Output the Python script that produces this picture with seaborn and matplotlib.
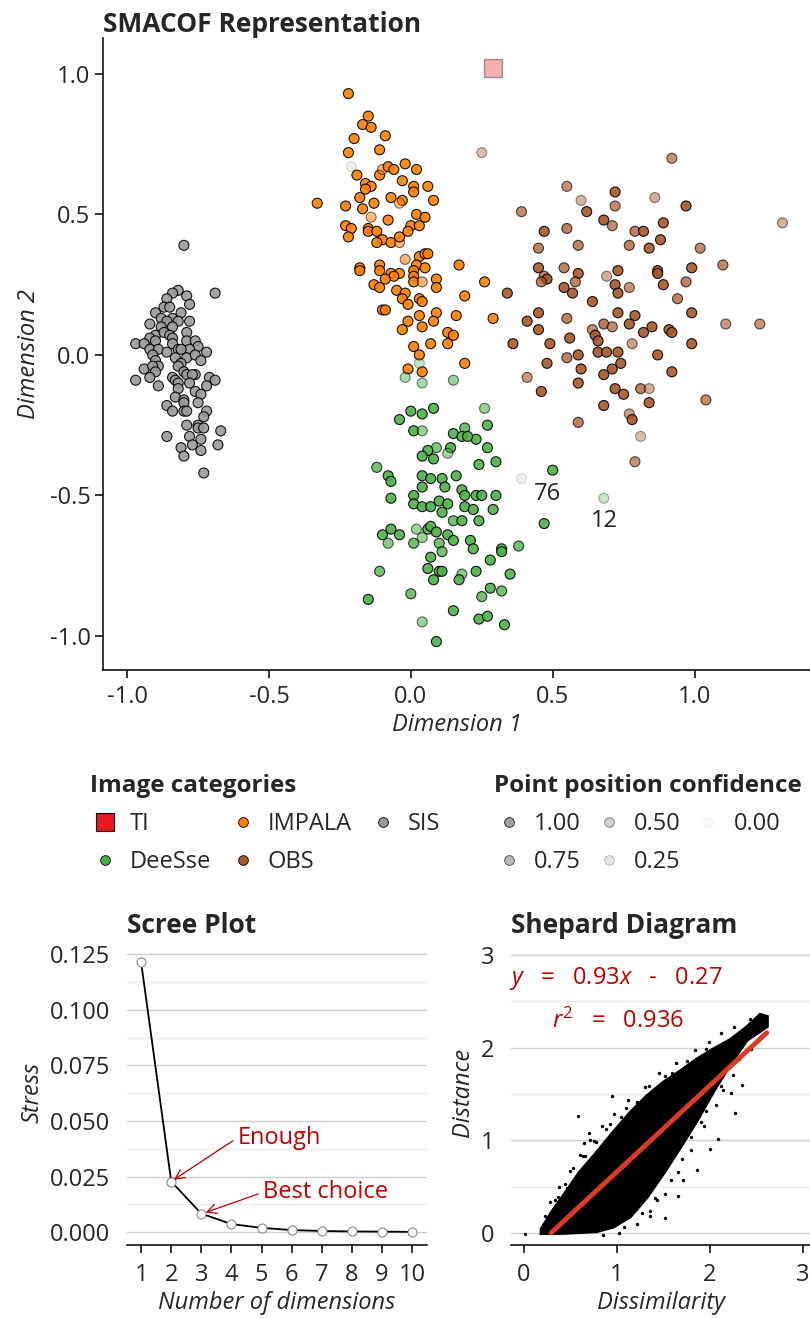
import numpy as np
import pandas as pd
import matplotlib
matplotlib.use("Agg")
import matplotlib.pyplot as plt
import matplotlib.colors as mcolors
from matplotlib.lines import Line2D
from matplotlib.ticker import MultipleLocator, FormatStrFormatter
import seaborn as sns

# ---- data ----
# configuration points (x, y, confidence)
ti_pts = [(0.29, 1.02, 0.35)]

sis_pts = [
    (-0.80, 0.39, 1), (-0.69, 0.22, 1), (-0.82, 0.23, 1), (-0.84, 0.22, 1), (-0.79, 0.21, 1),
    (-0.78, 0.18, 1), (-0.86, 0.20, 1), (-0.87, 0.17, 1), (-0.85, 0.17, 1), (-0.90, 0.15, 1),
    (-0.81, 0.15, 1), (-0.88, 0.13, 1), (-0.84, 0.13, 1), (-0.82, 0.12, 1), (-0.78, 0.12, 1),
    (-0.92, 0.11, 1), (-0.86, 0.12, 1), (-0.88, 0.10, 1), (-0.84, 0.10, 1), (-0.79, 0.08, 1),
    (-0.90, 0.07, 1), (-0.87, 0.08, 1), (-0.92, 0.06, 1), (-0.85, 0.07, 1), (-0.84, 0.06, 1),
    (-0.79, 0.05, 1), (-0.97, 0.04, 1), (-0.94, 0.04, 1), (-0.90, 0.05, 1), (-0.76, 0.05, 1),
    (-0.75, 0.03, 1), (-0.84, 0.04, 1), (-0.78, 0.02, 1), (-0.92, 0.02, 1), (-0.89, 0.02, 1),
    (-0.82, 0.02, 1), (-0.81, 0.02, 1), (-0.72, 0.01, 1), (-0.86, 0.01, 1), (-0.91, 0.00, 1),
    (-0.83, -0.01, 1), (-0.79, -0.01, 1), (-0.76, 0.00, 1), (-0.74, -0.02, 1), (-0.90, -0.02, 1),
    (-0.81, -0.03, 1), (-0.89, -0.04, 1), (-0.94, -0.05, 1), (-0.91, -0.04, 1), (-0.82, -0.04, 1),
    (-0.90, -0.06, 1), (-0.92, -0.08, 1), (-0.80, -0.06, 1), (-0.79, -0.07, 1), (-0.76, -0.07, 1),
    (-0.77, -0.07, 1), (-0.84, -0.08, 1), (-0.83, -0.09, 1), (-0.71, -0.08, 1), (-0.69, -0.09, 1),
    (-0.97, -0.09, 1), (-0.82, -0.10, 1), (-0.78, -0.10, 1), (-0.72, -0.11, 1), (-0.89, -0.11, 1),
    (-0.82, -0.12, 1), (-0.76, -0.13, 1), (-0.74, -0.14, 1), (-0.83, -0.15, 1), (-0.80, -0.16, 1),
    (-0.80, -0.17, 1), (-0.86, -0.18, 1), (-0.75, -0.17, 1), (-0.84, -0.20, 1), (-0.80, -0.20, 1),
    (-0.79, -0.20, 1), (-0.72, -0.20, 1), (-0.73, -0.22, 1), (-0.79, -0.25, 1), (-0.75, -0.25, 1),
    (-0.75, -0.26, 1), (-0.73, -0.26, 1), (-0.67, -0.27, 1), (-0.86, -0.29, 1), (-0.78, -0.29, 1),
    (-0.74, -0.30, 1), (-0.77, -0.32, 1), (-0.68, -0.32, 1), (-0.81, -0.33, 1), (-0.74, -0.34, 1),
    (-0.80, -0.36, 1), (-0.73, -0.42, 1),
]

impala_pts = [
    (-0.22, 0.93, 1), (-0.15, 0.85, 1), (-0.17, 0.82, 1), (-0.14, 0.81, 1), (-0.20, 0.77, 1),
    (-0.09, 0.78, 1), (-0.22, 0.72, 1), (-0.11, 0.73, 1), (-0.19, 0.64, 1), (-0.11, 0.64, 1),
    (-0.10, 0.66, 0.6), (-0.08, 0.67, 1), (-0.06, 0.66, 1), (-0.02, 0.68, 1), (0.02, 0.66, 1),
    (-0.16, 0.61, 1), (-0.14, 0.60, 1), (-0.16, 0.59, 1), (-0.03, 0.62, 1), (0.01, 0.60, 1),
    (0.01, 0.58, 1), (0.06, 0.60, 1), (-0.18, 0.56, 1), (-0.07, 0.56, 1), (-0.03, 0.55, 1),
    (-0.04, 0.54, 0.5), (0.08, 0.55, 1), (-0.33, 0.54, 1), (-0.23, 0.53, 1), (-0.13, 0.54, 1),
    (-0.17, 0.52, 1), (-0.14, 0.49, 0.55), (0.02, 0.50, 1), (0.05, 0.49, 1), (-0.08, 0.48, 1),
    (-0.23, 0.46, 1), (-0.21, 0.45, 1), (-0.15, 0.45, 1), (-0.15, 0.44, 1), (-0.12, 0.44, 1),
    (0.00, 0.46, 1), (-0.01, 0.44, 1), (0.03, 0.46, 1), (-0.22, 0.42, 1), (-0.10, 0.41, 1),
    (-0.12, 0.40, 1), (-0.07, 0.40, 1), (-0.04, 0.40, 0.6), (-0.04, 0.42, 1),
    (-0.02, 0.34, 0.6), (0.03, 0.35, 1), (0.05, 0.36, 1), (0.06, 0.36, 1), (-0.18, 0.31, 1),
    (-0.18, 0.30, 1), (-0.11, 0.32, 1), (0.02, 0.32, 1), (0.17, 0.32, 1), (-0.11, 0.30, 1),
    (-0.07, 0.29, 1), (-0.04, 0.29, 1), (0.01, 0.30, 1), (0.05, 0.31, 1), (-0.06, 0.28, 1),
    (0.01, 0.28, 1), (-0.09, 0.27, 1), (0.01, 0.26, 1), (0.04, 0.26, 0.6), (0.09, 0.27, 1),
    (-0.13, 0.25, 1), (-0.11, 0.24, 1), (0.09, 0.24, 1), (-0.05, 0.23, 1), (-0.02, 0.22, 1),
    (-0.03, 0.20, 1), (-0.01, 0.18, 1), (0.03, 0.20, 1), (0.04, 0.19, 1), (0.19, 0.21, 1),
    (-0.10, 0.16, 1), (-0.09, 0.16, 1), (0.09, 0.15, 1), (0.16, 0.14, 1), (0.03, 0.14, 1),
    (-0.01, 0.12, 1), (0.08, 0.12, 1), (-0.03, 0.09, 1), (0.04, 0.10, 1), (0.13, 0.08, 1),
    (0.15, 0.07, 1), (0.13, 0.04, 1), (0.01, 0.03, 1), (0.07, 0.04, 1), (0.03, 0.00, 1),
    (0.19, -0.03, 1), (-0.01, -0.05, 1), (0.04, -0.06, 1), (0.26, 0.26, 1), (0.29, 0.13, 1),
]

deesse_pts = [
    (-0.21, 0.67, 0.1), (0.03, -0.03, 0.3), (-0.02, -0.08, 0.5), (0.04, -0.10, 0.5), (0.15, -0.09, 0.6),
    (0.26, -0.19, 0.6), (0.27, -0.25, 1), (0.23, -0.30, 1), (0.27, -0.33, 1), (0.30, -0.38, 1),
    (0.24, -0.39, 1), (0.50, -0.41, 1), (0.00, -0.20, 1), (0.08, -0.19, 1), (0.04, -0.21, 1),
    (-0.04, -0.23, 1), (0.01, -0.27, 1), (0.04, -0.27, 0.6), (0.19, -0.26, 0.85), (0.15, -0.28, 1),
    (0.18, -0.29, 1), (0.20, -0.29, 1), (0.09, -0.33, 0.75), (0.14, -0.33, 1), (0.06, -0.34, 1),
    (0.04, -0.36, 1), (0.13, -0.35, 0.55), (0.08, -0.37, 1), (-0.12, -0.40, 0.85), (-0.08, -0.43, 1),
    (-0.07, -0.45, 1), (0.04, -0.43, 1), (0.07, -0.44, 1), (0.11, -0.44, 1), (0.16, -0.43, 1),
    (0.39, -0.44, 0.1), (0.04, -0.47, 1), (0.12, -0.47, 1), (-0.07, -0.51, 1), (0.01, -0.50, 1),
    (0.18, -0.48, 1), (0.19, -0.50, 1), (0.23, -0.50, 1), (0.25, -0.50, 1), (0.30, -0.50, 1),
    (0.01, -0.53, 1), (0.04, -0.54, 1), (0.07, -0.54, 1), (0.10, -0.52, 1), (0.13, -0.53, 1),
    (0.19, -0.54, 1), (0.22, -0.55, 1), (0.29, -0.55, 1), (0.11, -0.56, 1),
    (0.47, -0.60, 1), (0.15, -0.59, 0.85), (0.18, -0.59, 1), (0.24, -0.59, 1), (-0.10, -0.64, 1),
    (-0.07, -0.62, 1), (-0.04, -0.64, 1), (0.02, -0.62, 0.6), (0.06, -0.62, 1), (0.07, -0.61, 1),
    (0.09, -0.63, 1), (0.13, -0.64, 1), (0.15, -0.66, 1), (0.04, -0.65, 0.6), (-0.08, -0.67, 0.7),
    (0.01, -0.67, 0.85), (0.10, -0.67, 0.85), (0.21, -0.66, 1), (0.22, -0.69, 1), (0.11, -0.70, 0.85),
    (0.32, -0.69, 1), (0.32, -0.70, 1), (0.38, -0.68, 0.85), (0.07, -0.72, 1), (0.28, -0.73, 1),
    (-0.11, -0.77, 0.85), (0.06, -0.76, 1), (0.10, -0.77, 1), (0.11, -0.77, 1), (0.18, -0.78, 0.7),
    (0.17, -0.80, 1), (0.23, -0.77, 1), (0.35, -0.78, 1), (0.08, -0.80, 1), (0.28, -0.83, 1),
    (0.32, -0.84, 0.85), (0.25, -0.86, 0.85), (0.00, -0.85, 0.85), (-0.15, -0.87, 1), (0.15, -0.91, 1),
    (0.24, -0.94, 1), (0.27, -0.93, 1), (0.04, -0.95, 0.6), (0.33, -0.96, 1), (0.09, -1.02, 1),
    (0.68, -0.51, 0.3),
]

obs_pts = [
    (0.25, 0.72, 0.4), (0.55, 0.60, 0.7), (0.60, 0.55, 0.45), (0.72, 0.58, 1), (0.72, 0.53, 0.75),
    (0.39, 0.51, 0.75), (0.62, 0.51, 1), (0.68, 0.48, 1), (0.71, 0.46, 0.75), (0.79, 0.44, 0.8),
    (0.47, 0.44, 1), (0.55, 0.45, 0.8), (0.45, 0.38, 0.8), (0.59, 0.39, 0.8), (0.77, 0.39, 0.8),
    (0.45, 0.31, 1), (0.47, 0.28, 0.8), (0.48, 0.27, 1), (0.46, 0.26, 0.8), (0.54, 0.31, 0.8),
    (0.59, 0.29, 1), (0.58, 0.26, 0.8), (0.54, 0.24, 1), (0.57, 0.22, 1), (0.69, 0.28, 0.5),
    (0.73, 0.30, 1), (0.72, 0.25, 1), (0.73, 0.22, 1), (0.77, 0.24, 0.7), (0.34, 0.22, 1),
    (0.64, 0.19, 1), (0.92, 0.70, 0.7), (0.86, 0.56, 0.5), (0.97, 0.53, 1), (1.31, 0.47, 0.5),
    (0.89, 0.47, 1), (0.82, 0.44, 1), (0.88, 0.41, 1), (0.84, 0.38, 1), (1.02, 0.38, 0.75),
    (1.10, 0.32, 0.75), (0.99, 0.31, 1), (0.87, 0.30, 1), (0.87, 0.29, 1), (0.89, 0.25, 1),
    (0.97, 0.26, 0.8), (0.94, 0.20, 0.8), (0.45, 0.15, 1), (0.41, 0.12, 1), (0.45, 0.09, 1),
    (0.55, 0.13, 0.8), (0.73, 0.15, 1), (0.79, 0.14, 1), (0.77, 0.11, 1), (0.68, 0.11, 0.85),
    (0.71, 0.10, 0.75), (0.64, 0.09, 0.75), (0.82, 0.08, 1), (0.65, 0.07, 1), (0.66, 0.05, 1),
    (0.56, 0.06, 1), (0.36, 0.04, 1), (0.49, 0.04, 1), (0.78, 0.04, 0.6), (0.59, 0.00, 1),
    (0.66, 0.01, 1), (0.69, 0.01, 1), (0.73, 0.01, 1), (0.48, -0.03, 1), (0.55, -0.01, 0.8),
    (0.74, -0.03, 1), (0.60, -0.05, 1), (0.68, -0.07, 1), (0.71, -0.05, 1), (0.41, -0.08, 0.65),
    (0.59, -0.10, 1), (0.46, -0.13, 1), (0.72, -0.12, 1), (0.75, -0.14, 1), (0.81, -0.12, 0.8),
    (0.68, -0.18, 1), (0.77, -0.21, 0.6), (0.78, -0.23, 1), (0.59, -0.24, 0.8), (0.81, -0.29, 0.4),
    (0.79, -0.38, 0.7), (0.85, 0.10, 1), (0.99, 0.15, 1), (0.91, 0.09, 1), (0.92, 0.08, 1),
    (1.11, 0.11, 0.65), (1.23, 0.11, 0.7), (0.99, 0.04, 1), (0.87, 0.00, 1), (0.92, -0.06, 1),
    (0.84, -0.12, 0.5), (0.84, -0.17, 1), (1.04, -0.16, 0.75),
]

point_labels = [("76", 0.483, -0.495), ("12", 0.681, -0.59)]

categories = ["TI", "DeeSse", "IMPALA", "OBS", "SIS"]
cat_colors = {"TI": "#e41a1c", "DeeSse": "#4daf4a", "IMPALA": "#ff7f00",
              "OBS": "#a65628", "SIS": "#999999"}
conf_levels = [1.00, 0.75, 0.50, 0.25, 0.00]

# scree plot
n_dims = [1, 2, 3, 4, 5, 6, 7, 8, 9, 10]
stress = [0.1213, 0.0228, 0.0084, 0.0037, 0.0020, 0.0010, 0.0006, 0.0004, 0.0003, 0.0002]

# shepard diagram: envelope of the dense cloud, stray points, fitted line
cloud_upper_x = [0.19, 0.30, 0.42, 0.60, 0.78, 0.96, 1.14, 1.32, 1.50, 1.68, 1.86, 2.04, 2.22, 2.39, 2.54, 2.61]
cloud_upper_y = [0.04, 0.22, 0.39, 0.65, 0.86, 1.08, 1.29, 1.47, 1.62, 1.74, 1.87, 1.98, 2.08, 2.21, 2.35, 2.33]
cloud_lower_x = [2.61, 2.39, 2.22, 2.04, 1.86, 1.68, 1.50, 1.32, 1.14, 0.96, 0.78, 0.39, 0.19]
cloud_lower_y = [2.23, 2.08, 1.83, 1.54, 1.22, 0.93, 0.65, 0.39, 0.18, 0.07, 0.02, 0.00, 0.00]
stray_x = [0.01, 0.58, 0.95, 0.70, 0.65, 0.75, 0.63, 0.37, 0.46, 1.34, 1.60, 1.96, 2.34, 2.27, 2.09,
           2.00, 1.86, 1.66, 1.52, 1.35, 1.71, 2.14, 2.23, 1.93, 1.43, 1.21, 1.59, 0.92, 1.10,
           0.22, 0.28, 0.33, 0.38, 0.44, 0.49, 0.53, 0.60, 0.66, 0.71, 0.77, 0.84, 0.88, 0.97,
           1.04, 1.12, 1.21, 1.30, 1.37, 1.45, 1.52, 1.63, 1.75, 1.84, 1.99, 2.12, 2.26, 2.43,
           0.85, 1.02, 1.08, 1.22, 1.27, 1.35, 1.41, 1.52, 1.58, 1.66, 1.70, 1.79, 1.80, 1.90,
           1.96, 2.06, 2.12, 2.25, 2.31, 2.44, 2.53]
stray_y = [-0.01, 1.26, 1.48, 1.08, 0.97, 0.99, 0.83, 0.39, 0.48, 1.59, 1.71, 1.98, 1.60, 1.29, 1.01,
           0.91, 0.68, 0.40, 0.16, 0.18, 0.57, 1.54, 1.51, 1.15, 0.36, 1.40, 1.72, 1.17, 1.35,
           0.18, 0.33, 0.36, 0.50, 0.53, 0.67, 0.70, 0.84, 0.83, 1.00, 0.98, 1.15, 1.12, 1.28,
           1.25, 1.43, 1.41, 1.57, 1.52, 1.72, 1.69, 1.83, 1.86, 1.97, 2.06, 2.16, 2.22, 2.31,
           -0.02, 0.00, 0.06, 0.10, 0.22, 0.24, 0.38, 0.42, 0.57, 0.66, 0.80, 0.90, 1.04, 1.20,
           1.32, 1.38, 1.58, 1.70, 1.88, 1.98, 2.10]
fit_x = [0.29, 2.61]
fit_y = [0.00, 2.16]

# ---- style ----
sns.set_theme(style="white")
plt.rcParams['font.family'] = ['Open Sans', 'DejaVu Sans']
plt.rcParams['axes.unicode_minus'] = False
plt.rcParams['mathtext.fontset'] = 'custom'
plt.rcParams['mathtext.rm'] = 'Open Sans'
plt.rcParams['mathtext.it'] = 'Open Sans:italic'
FS = 17
TFS = 19
RED = "#c00000"


def to_alpha(c):
    return 0.05 + 0.85 * c


fig = plt.figure(figsize=(8.1, 13.18), dpi=100)

# ---- main MDS scatter ----
ax = fig.add_axes([0.1272, 0.4917, 0.8728, 0.4795])
frames = []
for name, pts in [("SIS", sis_pts), ("OBS", obs_pts), ("IMPALA", impala_pts), ("DeeSse", deesse_pts)]:
    d = pd.DataFrame(pts, columns=["x", "y", "conf"])
    d["cat"] = name
    frames.append(d)
pts_df = pd.concat(frames, ignore_index=True)
pts_df["alpha"] = to_alpha(pts_df["conf"])

sns.scatterplot(data=pts_df, x="x", y="y", hue="cat", palette=cat_colors, s=52,
                linewidth=0.8, legend=False, ax=ax, zorder=3)
coll = ax.collections[-1]
coll.set_facecolors([mcolors.to_rgba(cat_colors[c], a) for c, a in zip(pts_df["cat"], pts_df["alpha"])])
coll.set_edgecolors([(0, 0, 0, a) for a in pts_df["alpha"]])

ti_df = pd.DataFrame(ti_pts, columns=["x", "y", "conf"])
sns.scatterplot(data=ti_df, x="x", y="y", marker="s", s=150, color=cat_colors["TI"],
                alpha=to_alpha(ti_df["conf"][0]), edgecolor="black", linewidth=1,
                legend=False, ax=ax, zorder=3)

for txt, lx, ly in point_labels:
    ax.text(lx, ly, txt, fontsize=FS, ha="center", va="center", color="#222222")

ax.set_xlim(-1.085, 1.407)
ax.set_ylim(-1.121, 1.128)
ax.set_xticks([-1.0, -0.5, 0.0, 0.5, 1.0])
ax.set_yticks([-1.0, -0.5, 0.0, 0.5, 1.0])
ax.xaxis.set_major_formatter(FormatStrFormatter('%.1f'))
ax.yaxis.set_major_formatter(FormatStrFormatter('%.1f'))
sns.despine(ax=ax)
for s in ["left", "bottom"]:
    ax.spines[s].set_color("black")
    ax.spines[s].set_linewidth(1.1)
ax.tick_params(axis="both", direction="out", length=6, width=1.1, color="black",
               labelsize=FS, left=True, bottom=True)
ax.tick_params(axis="x", pad=5)
ax.tick_params(axis="y", pad=3)
ax.set_xlabel("Dimension 1", fontsize=FS, fontstyle="italic", labelpad=3)
ax.set_ylabel("Dimension 2", fontsize=FS, fontstyle="italic", labelpad=6)
ax.set_title("SMACOF Representation", loc="left", fontsize=TFS, fontweight="bold", pad=4)

# ---- legends ----
cat_handles = []
for c in categories:
    if c == "TI":
        h = Line2D([], [], marker="s", linestyle="", markersize=13, markerfacecolor=cat_colors[c],
                   markeredgecolor="black", markeredgewidth=0.8)
    else:
        h = Line2D([], [], marker="o", linestyle="", markersize=7, markerfacecolor=cat_colors[c],
                   markeredgecolor="black", markeredgewidth=0.6)
    cat_handles.append(h)
leg1 = fig.legend(cat_handles, categories, title="Image categories", ncol=3, loc="upper left",
                  bbox_to_anchor=(0.111, 0.413), frameon=False, fontsize=FS,
                  title_fontproperties={"weight": "bold", "size": 17.5}, alignment="left",
                  handlelength=1.27, handletextpad=0.42, columnspacing=0.7, labelspacing=0.6,
                  borderpad=0, borderaxespad=0)

conf_handles = [Line2D([], [], marker="o", linestyle="", markersize=7,
                       markerfacecolor=mcolors.to_rgba("#999999", to_alpha(c)),
                       markeredgecolor=(0, 0, 0, to_alpha(c)), markeredgewidth=0.6)
                for c in conf_levels]
leg2 = fig.legend(conf_handles, [f"{c:.2f}" for c in conf_levels], title="Point position confidence",
                  ncol=3, loc="upper left", bbox_to_anchor=(0.61, 0.413), frameon=False, fontsize=FS,
                  title_fontproperties={"weight": "bold", "size": 17.5}, alignment="left",
                  handlelength=1.27, handletextpad=0.42, columnspacing=0.55, labelspacing=0.6,
                  borderpad=0, borderaxespad=0)


def style_small(a):
    sns.despine(ax=a, left=True)
    a.spines["bottom"].set_color("black")
    a.spines["bottom"].set_linewidth(1.1)
    a.grid(axis="y", which="major", color="#cfcfcf", linewidth=1)
    a.grid(axis="y", which="minor", color="#eeeeee", linewidth=1)
    a.set_axisbelow(True)
    a.tick_params(axis="x", direction="out", length=6, width=1.1, color="black",
                  labelsize=FS, pad=7, bottom=True)
    a.tick_params(axis="y", which="both", length=0, labelsize=FS, pad=12)


# ---- scree plot ----
ax2 = fig.add_axes([0.1568, 0.0554, 0.3704, 0.2314])
sns.lineplot(x=n_dims, y=stress, color="black", linewidth=1.3, marker="o", markersize=6.5,
             markerfacecolor="white", markeredgecolor="#8a8a8a", markeredgewidth=0.8, ax=ax2)
ax2.set_xlim(0.53, 10.5)
ax2.set_ylim(-0.0057, 0.1314)
ax2.set_xticks(n_dims)
ax2.yaxis.set_major_locator(MultipleLocator(0.025))
ax2.yaxis.set_minor_locator(MultipleLocator(0.0125))
ax2.yaxis.set_major_formatter(FormatStrFormatter('%.3f'))
style_small(ax2)
ax2.set_xlabel("Number of dimensions", fontsize=FS, fontstyle="italic", labelpad=3)
ax2.set_ylabel("Stress", fontsize=FS, fontstyle="italic", labelpad=4)
ax2.set_title("Scree Plot", loc="left", fontsize=TFS, fontweight="bold", pad=5)
ax2.annotate("Enough", xy=(n_dims[1] + 0.05, stress[1] + 0.0005), xytext=(4.2, 0.0425),
             fontsize=FS, color=RED, ha="left", va="center",
             arrowprops=dict(arrowstyle="->", color=RED, lw=0.9, relpos=(0, 0.5), shrinkA=1, shrinkB=1))
ax2.annotate("Best choice", xy=(n_dims[2] + 0.1, stress[2] + 0.0003), xytext=(5.05, 0.018),
             fontsize=FS, color=RED, ha="left", va="center",
             arrowprops=dict(arrowstyle="->", color=RED, lw=0.9, relpos=(0, 0.5), shrinkA=1, shrinkB=1))

# ---- shepard diagram ----
ax3 = fig.add_axes([0.6309, 0.0554, 0.3691, 0.2314])
ax3.fill(cloud_upper_x + cloud_lower_x, cloud_upper_y + cloud_lower_y, color="black",
         linewidth=3, edgecolor="black", zorder=2)
sns.scatterplot(x=stray_x, y=stray_y, color="black", s=6, linewidth=0, ax=ax3, zorder=2)
sns.lineplot(x=fit_x, y=fit_y, color="#dc3a22", linewidth=3.5, ax=ax3, zorder=3)
ax3.set_xlim(-0.14, 3.075)
ax3.set_ylim(-0.13, 3.16)
ax3.set_xticks([0, 1, 2, 3])
ax3.set_yticks([0, 1, 2, 3])
ax3.yaxis.set_minor_locator(MultipleLocator(0.5))
style_small(ax3)
ax3.set_xlabel("Dissimilarity", fontsize=FS, fontstyle="italic", labelpad=3)
ax3.set_ylabel("Distance", fontsize=FS, fontstyle="italic", labelpad=4)
ax3.set_title("Shepard Diagram", loc="left", fontsize=TFS, fontweight="bold", pad=5)
ax3.text(0.99, 2.75, r"$y$   =   0.93$x$   -   0.27", color=RED, fontsize=FS, ha="center", va="center")
ax3.text(1.01, 2.28, r"$r^2$   =   0.936", color=RED, fontsize=FS, ha="center", va="center")

fig.savefig("out.png", dpi=100)
